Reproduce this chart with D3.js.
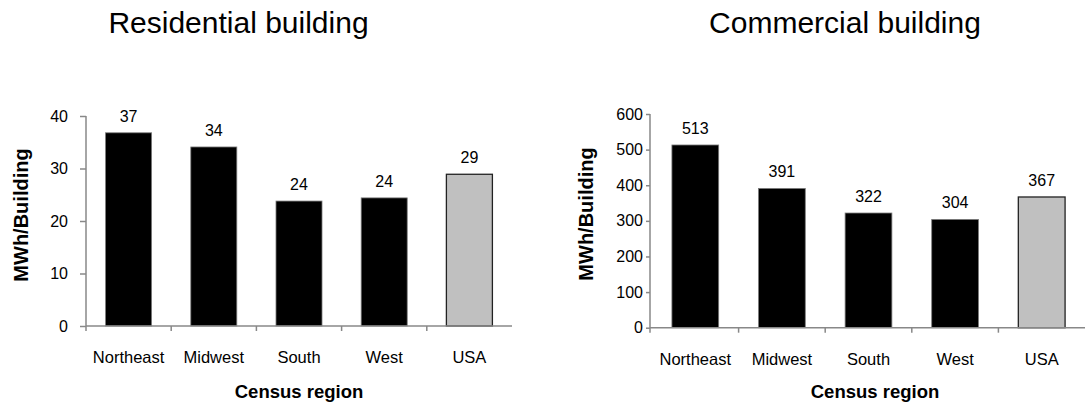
<!DOCTYPE html>
<html>
<head>
<meta charset="utf-8">
<script src="https://cdn.jsdelivr.net/npm/d3@7"></script>
<style>
  html, body { margin: 0; padding: 0; background: #fff; }
  svg { display: block; font-family: "Liberation Sans", Arial, sans-serif; }
</style>
</head>
<body>
<svg id="chart" width="1086" height="407"></svg>
<script>
const categories = ["Northeast", "Midwest", "South", "West", "USA"];
const residentialValues = [36.8, 34.1, 23.8, 24.4, 28.9];
const commercialValues = [513, 391, 322, 304, 367];
const residentialTicks = [0, 10, 20, 30, 40];
const commercialTicks = [0, 100, 200, 300, 400, 500, 600];
const titles = ["Residential building", "Commercial building"];
const yTitle = "MWh/Building";
const xTitle = "Census region";

const svg = d3.select("#chart");

function drawPanel(cfg) {
  const g = svg.append("g");
  const x = d3.scaleBand().domain(categories).range([cfg.x0, cfg.x1]).padding(0);
  const xb = d3.scaleBand().domain(categories).range([cfg.x0, cfg.x1])
    .paddingInner(0.46).paddingOuter(0.23);
  const y = d3.scaleLinear().domain([0, cfg.max]).range([cfg.y0, cfg.y1]);

  // title
  g.append("text").attr("x", cfg.titleX).attr("y", 33)
    .attr("text-anchor", "middle").attr("font-size", 30).attr("fill", "#000")
    .text(cfg.title);

  // bars
  g.selectAll("rect.bar").data(cfg.values).enter().append("rect")
    .attr("class", "bar")
    .attr("x", (d, i) => xb(categories[i]))
    .attr("width", xb.bandwidth())
    .attr("y", d => y(d))
    .attr("height", d => y(0) - y(d))
    .attr("fill", (d, i) => categories[i] === "USA" ? "#c0c0c0" : "#000")
    .attr("stroke", (d, i) => categories[i] === "USA" ? "#222" : "#7a7a7a")
    .attr("stroke-width", (d, i) => categories[i] === "USA" ? 1.3 : 0.8);

  // value labels
  g.selectAll("text.val").data(cfg.values).enter().append("text")
    .attr("class", "val")
    .attr("x", (d, i) => xb(categories[i]) + xb.bandwidth() / 2)
    .attr("y", d => y(d) - 11)
    .attr("text-anchor", "middle").attr("font-size", 16).attr("fill", "#000")
    .text(d => Math.round(d));

  // y axis
  const yAxis = d3.axisLeft(y).tickValues(cfg.ticks).tickSize(cfg.tickLen)
    .tickPadding(cfg.tickPad).tickSizeOuter(0);
  const ya = g.append("g").attr("transform", `translate(${cfg.yAxisX},0)`).call(yAxis);
  ya.select(".domain").attr("stroke", "#888").attr("stroke-width", 1.5)
    .attr("d", `M0,${cfg.y0 + 5}V${cfg.y1}`);
  ya.selectAll(".tick line").attr("stroke", "#888").attr("stroke-width", 1.5);
  ya.selectAll(".tick text").attr("font-size", 16).attr("fill", "#000")
    .attr("font-family", "Liberation Sans, Arial, sans-serif");

  // x axis
  const xa = g.append("g").attr("transform", `translate(0,${cfg.y0})`);
  xa.append("line").attr("x1", cfg.yAxisX).attr("x2", cfg.x1)
    .attr("y1", 0).attr("y2", 0).attr("stroke", "#888").attr("stroke-width", 1.5);
  xa.selectAll("line.xt").data(categories.slice(1)).enter().append("line")
    .attr("class", "xt")
    .attr("x1", d => x(d)).attr("x2", d => x(d))
    .attr("y1", 0).attr("y2", 5).attr("stroke", "#888").attr("stroke-width", 1.5);
  xa.selectAll("text.cat").data(categories).enter().append("text")
    .attr("class", "cat")
    .attr("x", d => x(d) + x.bandwidth() / 2)
    .attr("y", cfg.catY - cfg.y0)
    .attr("text-anchor", "middle").attr("font-size", 16.5).attr("fill", "#000")
    .text(d => d);

  // axis titles
  g.append("text").attr("x", cfg.xTitleX).attr("y", 398)
    .attr("text-anchor", "middle").attr("font-size", 18.5).attr("font-weight", "bold")
    .attr("fill", "#000").text(xTitle);
  g.append("text")
    .attr("transform", `translate(${cfg.yTitleX},${cfg.yTitleY}) rotate(-90)`)
    .attr("text-anchor", "middle").attr("font-size", 20).attr("font-weight", "bold")
    .attr("fill", "#000").text(yTitle);
}

drawPanel({
  title: titles[0], titleX: 238.5,
  values: residentialValues, ticks: residentialTicks, max: 40,
  x0: 86, x1: 512, yAxisX: 86, y0: 326, y1: 116,
  tickLen: 6, tickPad: 12, catY: 363, xTitleX: 299,
  yTitleX: 28, yTitleY: 215
});

drawPanel({
  title: titles[1], titleX: 845,
  values: commercialValues, ticks: commercialTicks, max: 600,
  x0: 652, x1: 1085, yAxisX: 650, y0: 327.7, y1: 114,
  tickLen: 4, tickPad: 3, catY: 365, xTitleX: 875,
  yTitleX: 593, yTitleY: 214
});
</script>
</body>
</html>
